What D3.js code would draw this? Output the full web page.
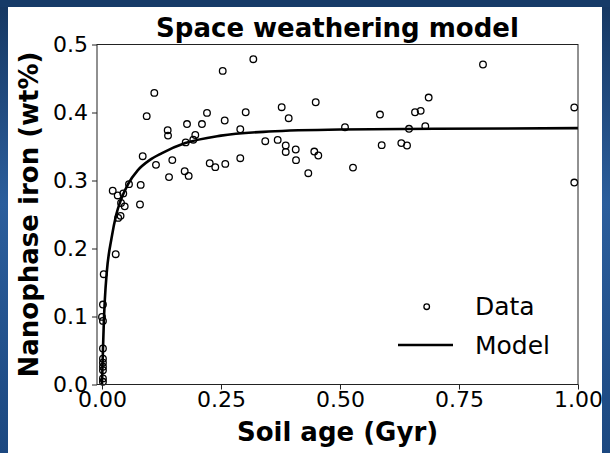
<!DOCTYPE html>
<html>
<head>
<meta charset="utf-8">
<script src="https://cdn.jsdelivr.net/npm/d3@7"></script>
<style>
  html, body { margin: 0; padding: 0; }
  body { width: 610px; height: 453px; overflow: hidden; }
  svg { display: block; font-family: "DejaVu Sans", sans-serif; }
</style>
</head>
<body>
<svg id="fig" width="610" height="453"></svg>
<script>
// soil age (Gyr) of each sample
const dataAge = [
  0.0225, 0.033, 0.0447, 0.040, 0.0477, 0.039, 0.034, 0.0567, 0.0813, 0.0798,
  0.0855, 0.1134, 0.0939, 0.1099, 0.138, 0.1387, 0.1477, 0.1408, 0.1758, 0.1786,
  0.1918, 0.196, 0.210, 0.2206, 0.1737, 0.1821, 0.2263, 0.238, 0.259, 0.2578,
  0.2536, 0.3179, 0.3019, 0.2905, 0.2905, 0.343, 0.3691, 0.3775, 0.3922, 0.386,
  0.386, 0.407, 0.4076, 0.4334, 0.446, 0.4544, 0.449, 0.5105, 0.5273, 0.584,
  0.5876, 0.6288, 0.6408, 0.645, 0.6576, 0.6695, 0.6863, 0.6792, 0.8004, 0.9922,
  0.9922, 0.0288, 0.0036, 0.002, 0.0, 0.002, 0.002, 0.002, 0.002, 0.002,
  0.002, 0.002, 0.002
];
// nanophase iron (wt%) of each sample
const dataIron = [
  0.285, 0.278, 0.281, 0.267, 0.262, 0.248, 0.245, 0.2946, 0.2935, 0.2647,
  0.3357, 0.323, 0.3946, 0.4288, 0.374, 0.366, 0.330, 0.305, 0.356, 0.383,
  0.360, 0.367, 0.383, 0.3994, 0.3137, 0.3068, 0.3254, 0.3196, 0.3244, 0.3882,
  0.4612, 0.4784, 0.4004, 0.3754, 0.3328, 0.3578, 0.3597, 0.4078, 0.3916, 0.3515,
  0.342, 0.3456, 0.3299, 0.3107, 0.3426, 0.3368, 0.4151, 0.3784, 0.319, 0.397,
  0.352, 0.355, 0.3515, 0.376, 0.4004, 0.4024, 0.422, 0.3799, 0.4706, 0.4074,
  0.297, 0.1916, 0.1622, 0.1176, 0.0994, 0.0935, 0.053, 0.038, 0.032, 0.026,
  0.021, 0.009, 0.004
];

// model curve
const modelAge  = [0, 0.002, 0.004, 0.006, 0.01, 0.02, 0.03, 0.04, 0.055, 0.075, 0.1, 0.125, 0.175, 0.25, 0.35, 0.5, 0.7, 1.0];
const modelIron = [0, 0.05, 0.095, 0.125, 0.165, 0.215, 0.25, 0.272, 0.295, 0.315, 0.33, 0.34, 0.355, 0.366, 0.372, 0.375, 0.376, 0.377];

const xTicks = [0, 0.25, 0.5, 0.75, 1.0];
const yTicks = [0, 0.1, 0.2, 0.3, 0.4, 0.5];

const svg = d3.select("#fig");

// blue slide background + white card
const defs = svg.append("defs");
const grad = defs.append("linearGradient").attr("id", "bg")
  .attr("x1", 0).attr("y1", 0).attr("x2", 0).attr("y2", 1);
grad.append("stop").attr("offset", "0%").attr("stop-color", "#163761");
grad.append("stop").attr("offset", "45%").attr("stop-color", "#2b5e9c");
grad.append("stop").attr("offset", "100%").attr("stop-color", "#1c4880");
svg.append("rect").attr("width", 610).attr("height", 453).attr("fill", "url(#bg)");
svg.append("rect").attr("x", 0).attr("y", 0).attr("width", 610).attr("height", 7).attr("fill", "#173b68");
svg.append("rect").attr("x", 8).attr("y", 7).attr("width", 594).attr("height", 446).attr("fill", "#ffffff");

const plotL = 97, plotR = 578, plotT = 44.5, plotB = 384.5;

const x = d3.scaleLinear().domain([-0.0105, 1.0]).range([plotL, plotR]);
const y = d3.scaleLinear().domain([0, 0.5]).range([plotB, plotT]);

const g = svg.append("g");

// model line
const line = d3.line().x(d => x(d[0])).y(d => y(d[1])).curve(d3.curveMonotoneX);
g.append("path")
  .datum(modelAge.map((a, i) => [a, modelIron[i]]))
  .attr("d", line)
  .attr("fill", "none")
  .attr("stroke", "#000")
  .attr("stroke-width", 2.6);

// data points
g.selectAll("circle.pt")
  .data(dataAge.map((a, i) => [a, dataIron[i]]))
  .join("circle")
  .attr("class", "pt")
  .attr("cx", d => x(d[0]))
  .attr("cy", d => y(d[1]))
  .attr("r", 3.3)
  .attr("fill", "none")
  .attr("stroke", "#000")
  .attr("stroke-width", 1.3);

// axes
const xAxis = d3.axisBottom(x).tickValues(xTicks).tickFormat(d3.format(".2f")).tickSize(5).tickPadding(2);
const yAxis = d3.axisLeft(y).tickValues(yTicks).tickFormat(d3.format(".1f")).tickSize(5).tickPadding(4);

const gx = svg.append("g").attr("transform", `translate(0,${plotB})`).call(xAxis);
const gy = svg.append("g").attr("transform", `translate(${plotL},0)`).call(yAxis);
[gx, gy].forEach(a => {
  a.select(".domain").remove();
  a.selectAll("line").attr("stroke", "#222").attr("stroke-width", 1);
  a.selectAll("text").attr("fill", "#000").style("font-size", "22px").style("font-family", "DejaVu Sans");
});

// frame
svg.append("rect")
  .attr("x", plotL).attr("y", plotT)
  .attr("width", plotR - plotL).attr("height", plotB - plotT)
  .attr("fill", "none").attr("stroke", "#222").attr("stroke-width", 1);

// title + labels
svg.append("text").attr("x", (plotL + plotR) / 2).attr("y", 37)
  .attr("text-anchor", "middle").style("font-size", "26px").style("font-weight", "bold")
  .text("Space weathering model");
svg.append("text").attr("x", (plotL + plotR) / 2).attr("y", 441)
  .attr("text-anchor", "middle").style("font-size", "26px").style("font-weight", "bold")
  .text("Soil age (Gyr)");
svg.append("text").attr("transform", `translate(38,${(plotT + plotB) / 2}) rotate(-90)`)
  .attr("text-anchor", "middle").style("font-size", "26px").style("font-weight", "bold")
  .text("Nanophase iron (wt%)");

// legend
const lg = svg.append("g");
lg.append("circle").attr("cx", 426.7).attr("cy", 306.7).attr("r", 2.8)
  .attr("fill", "none").attr("stroke", "#000").attr("stroke-width", 1.3);
lg.append("text").attr("x", 475).attr("y", 315).style("font-size", "25px").text("Data");
lg.append("line").attr("x1", 398).attr("x2", 453).attr("y1", 345).attr("y2", 345)
  .attr("stroke", "#000").attr("stroke-width", 2.6);
lg.append("text").attr("x", 475).attr("y", 354).style("font-size", "25px").text("Model");
</script>
</body>
</html>
